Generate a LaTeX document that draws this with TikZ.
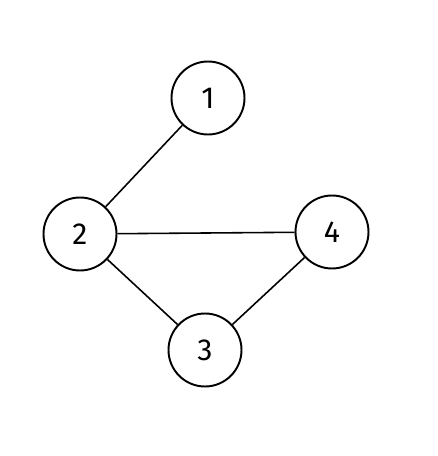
\documentclass[tikz,border=0pt]{standalone}
\usepackage{fontspec}
\setmainfont{Fira Sans}
\tikzset{vtx/.style={draw,circle,line width=1.1pt,minimum size=1.46cm,inner sep=0pt,font=\LARGE}}
\begin{document}
\begin{tikzpicture}
\useasboundingbox(0,0)rectangle(8.76,9.12);
\node[vtx](n1)at(4.16,7.16){1};\node[vtx](n2)at(1.6,4.44){2};
\node[vtx](n4)at(6.64,4.48){4};\node[vtx](n3)at(4.1,2.12){3};
\draw[line width=.9pt](n1)--(n2);\draw[line width=.9pt](n2)--(n4);\draw[line width=.9pt](n2)--(n3);\draw[line width=.9pt](n3)--(n4);
\end{tikzpicture}
\end{document}
